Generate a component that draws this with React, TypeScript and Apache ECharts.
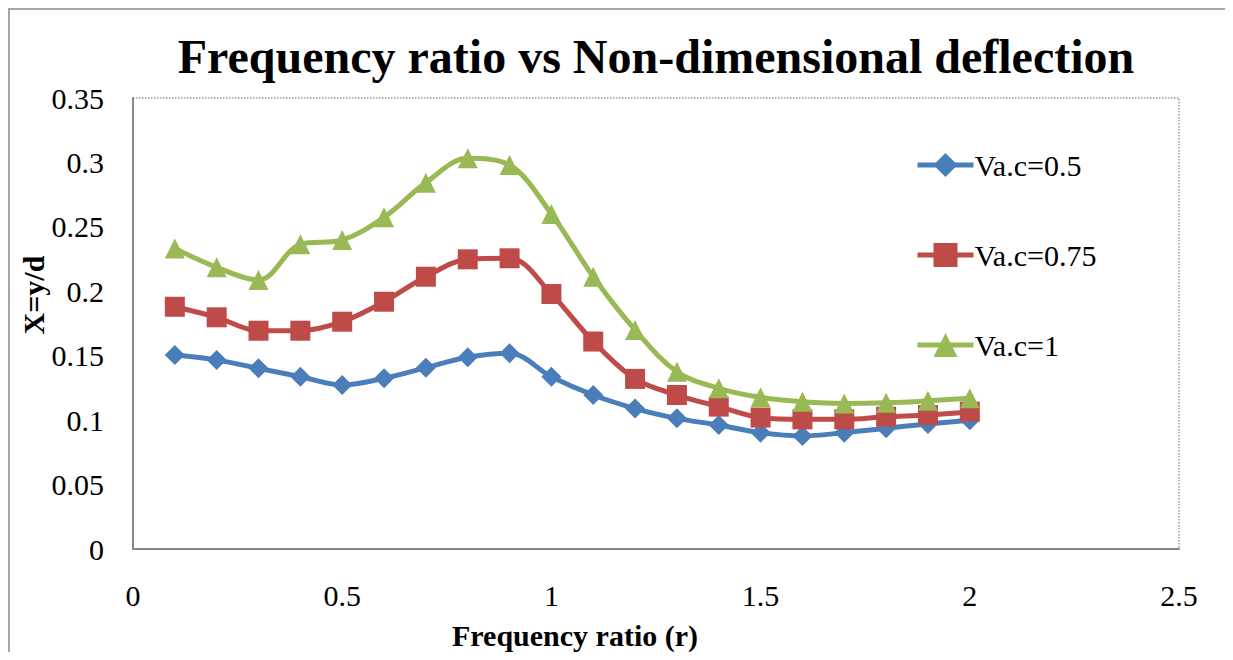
import React, { useEffect, useRef } from "react";
import * as echarts from "echarts";

// Frequency ratio r (x values of every series)
const frequencyRatio = [0.1, 0.2, 0.3, 0.4, 0.5, 0.6, 0.7, 0.8, 0.9, 1.0, 1.1, 1.2, 1.3, 1.4, 1.5, 1.6, 1.7, 1.8, 1.9, 2.0];

// Non-dimensional deflection X = y/d for each Va.c
const vac05 = [0.1506, 0.1467, 0.1402, 0.1337, 0.1273, 0.1325, 0.1407, 0.1488, 0.1519, 0.1337, 0.1195, 0.109, 0.1014, 0.0962, 0.0903, 0.0877, 0.0903, 0.0937, 0.097, 0.1];
const vac075 = [0.188, 0.1798, 0.1694, 0.1694, 0.1764, 0.1919, 0.2113, 0.2248, 0.2256, 0.1979, 0.161, 0.132, 0.1195, 0.1105, 0.102, 0.1006, 0.1006, 0.1027, 0.104, 0.1066];
const vac1 = [0.2333, 0.2186, 0.2088, 0.2365, 0.2398, 0.2574, 0.2843, 0.3032, 0.298, 0.26, 0.2113, 0.17, 0.1376, 0.1247, 0.1177, 0.1143, 0.113, 0.1135, 0.115, 0.117];

const seriesNames = ["Va.c=0.5", "Va.c=0.75", "Va.c=1"];
const seriesColors = ["#4A7EBB", "#BE4B48", "#98B954"];
const seriesSymbols = ["diamond", "rect", "triangle"];

const SERIF = "Liberation Serif";

const GRID = { left: 125, top: 90, width: 1046, height: 451 };

export default function App() {
  const ref = useRef<HTMLDivElement>(null);

  useEffect(() => {
    if (!ref.current) return;
    const chart = echarts.init(ref.current, undefined, { renderer: "svg" });

    const pairs = (ys: number[]) => frequencyRatio.map((x, i) => [x, ys[i]]);
    const allValues = [vac05, vac075, vac1];

    chart.setOption({
      animation: false,
      backgroundColor: "#ffffff",
      textStyle: { fontFamily: SERIF },
      grid: {
        ...GRID,
        show: true,
        borderColor: "#9a9a9a",
        borderWidth: 1.5,
        borderType: "dotted",
        backgroundColor: "transparent",
      },
      xAxis: {
        type: "value",
        min: 0,
        max: 2.5,
        interval: 0.5,
        axisLine: { show: true, onZero: false, lineStyle: { color: "#868686", width: 2 } },
        axisTick: { show: false },
        splitLine: { show: false },
        axisLabel: {
          color: "#000",
          fontFamily: SERIF,
          fontSize: 30,
          margin: 31,
          showMinLabel: true,
          showMaxLabel: true,
        },
      },
      yAxis: {
        type: "value",
        min: 0,
        max: 0.35,
        interval: 0.05,
        axisLine: { show: true, lineStyle: { color: "#868686", width: 2 } },
        axisTick: { show: false },
        splitLine: { show: false },
        axisLabel: {
          color: "#000",
          fontFamily: SERIF,
          fontSize: 30,
          margin: 29,
        },
      },
      legend: {
        orient: "vertical",
        left: 902,
        top: 137,
        itemWidth: 56,
        itemHeight: 30,
        itemGap: 60,
        lineStyle: { width: 5 },
        textStyle: { color: "#000", fontFamily: SERIF, fontSize: 30, lineHeight: 30, padding: [0, 0, 0, -4] },
        data: seriesNames,
      },
      series: allValues.map((vals, i) => ({
        name: seriesNames[i],
        type: "line",
        data: pairs(vals),
        smooth: 0.35,
        symbol: seriesSymbols[i],
        symbolSize: 20,
        showAllSymbol: true,
        lineStyle: { color: seriesColors[i], width: 5 },
        itemStyle: { color: seriesColors[i], borderWidth: 0 },
        z: 2 + i,
      })),
      graphic: [
        {
          type: "polyline",
          shape: { points: [[1, 700], [1, 1], [1300, 1]] },
          style: { stroke: "#a6a6a6", lineWidth: 2, fill: "none" },
          silent: true,
        },
        {
          type: "text",
          x: 648,
          y: 48,
          style: {
            text: "Frequency ratio vs Non-dimensional deflection",
            fontFamily: SERIF,
            fontWeight: "bold",
            fontSize: 48,
            fill: "#000",
            textAlign: "center",
            textVerticalAlign: "middle",
          },
        },
        {
          type: "text",
          x: 567,
          y: 627,
          style: {
            text: "Frequency ratio (r)",
            fontFamily: SERIF,
            fontWeight: "bold",
            fontSize: 30,
            fill: "#000",
            textAlign: "center",
            textVerticalAlign: "middle",
          },
        },
        {
          type: "text",
          x: 25,
          y: 287,
          rotation: Math.PI / 2,
          style: {
            text: "X=y/d",
            fontFamily: SERIF,
            fontWeight: "bold",
            fontSize: 30,
            fill: "#000",
            textAlign: "center",
            textVerticalAlign: "middle",
          },
        },
      ],
    });

    return () => chart.dispose();
  }, []);

  return <div ref={ref} style={{ width: 1225, height: 644 }} />;
}
